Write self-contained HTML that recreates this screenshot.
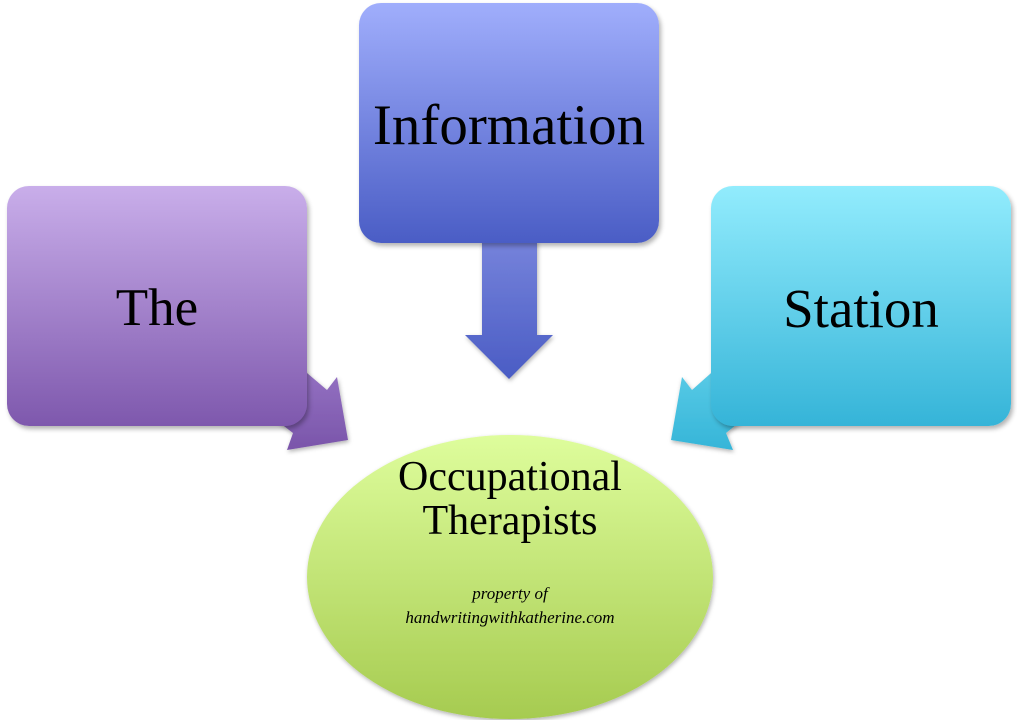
<!DOCTYPE html>
<html><head><style>
body{margin:0;width:1017px;height:720px;background:#fff;position:relative;overflow:hidden;font-family:"Liberation Serif",serif}
.b{position:absolute;width:300px;height:240px;border-radius:22px;box-shadow:2px 3px 5px rgba(0,0,0,.3);display:flex;align-items:center;justify-content:center;font-size:54px;color:#000}
</style></head><body>
<svg width="1017" height="720" style="position:absolute;left:0;top:0">
<defs>
<linearGradient id="gv" x1="0" y1="0" x2="0" y2="1"><stop offset="0" stop-color="#7683db"/><stop offset="1" stop-color="#4a5cc4"/></linearGradient>
<linearGradient id="gp" x1="0" y1="0" x2="0" y2="1"><stop offset="0" stop-color="#9a78c8"/><stop offset="1" stop-color="#7a55aa"/></linearGradient>
<linearGradient id="gc" x1="0" y1="0" x2="0" y2="1"><stop offset="0" stop-color="#62d0ea"/><stop offset="1" stop-color="#35b5d8"/></linearGradient>
<linearGradient id="gg" x1="0" y1="0" x2="0" y2="1"><stop offset="0" stop-color="#defd9c"/><stop offset="1" stop-color="#a6cb50"/></linearGradient>
<filter id="s"><feDropShadow dx="1" dy="2" stdDeviation="2" flood-opacity=".3"/></filter>
</defs>
<polygon filter="url(#s)" points="482,240 537,240 537,335 553,335 509,379 465,335 482,335" fill="url(#gv)"/>
<polygon filter="url(#s)" points="280,350 327,390 337,377 348,440 287,450 293,433 250,400" fill="url(#gp)"/>
<polygon filter="url(#s)" points="737,350 692,390 682,377 671,440 733,450 726,433 767,400" fill="url(#gc)"/>
<ellipse filter="url(#s)" cx="510" cy="577" rx="203" ry="142" fill="url(#gg)"/>
</svg>
<div class="b" style="left:7px;top:186px;background:linear-gradient(#c9aeea,#7e58ad);font-size:53px"><span style="margin-top:4px">The</span></div>
<div class="b" style="left:359px;top:3px;font-size:57px;background:linear-gradient(#a0aefc,#4a5dc5)"><span style="margin-top:4px">Information</span></div>
<div class="b" style="left:711px;top:186px;background:linear-gradient(#92ecfd,#35b4d8);font-size:55px"><span style="margin-top:4px">Station</span></div>
<div style="position:absolute;left:308px;top:455px;width:404px;text-align:center;font-size:42px;line-height:44px">Occupational<br>Therapists</div>
<div style="position:absolute;left:308px;top:582px;width:404px;text-align:center;font-size:17px;line-height:24px;font-style:italic">property of<br>handwritingwithkatherine.com</div>
</body></html>
